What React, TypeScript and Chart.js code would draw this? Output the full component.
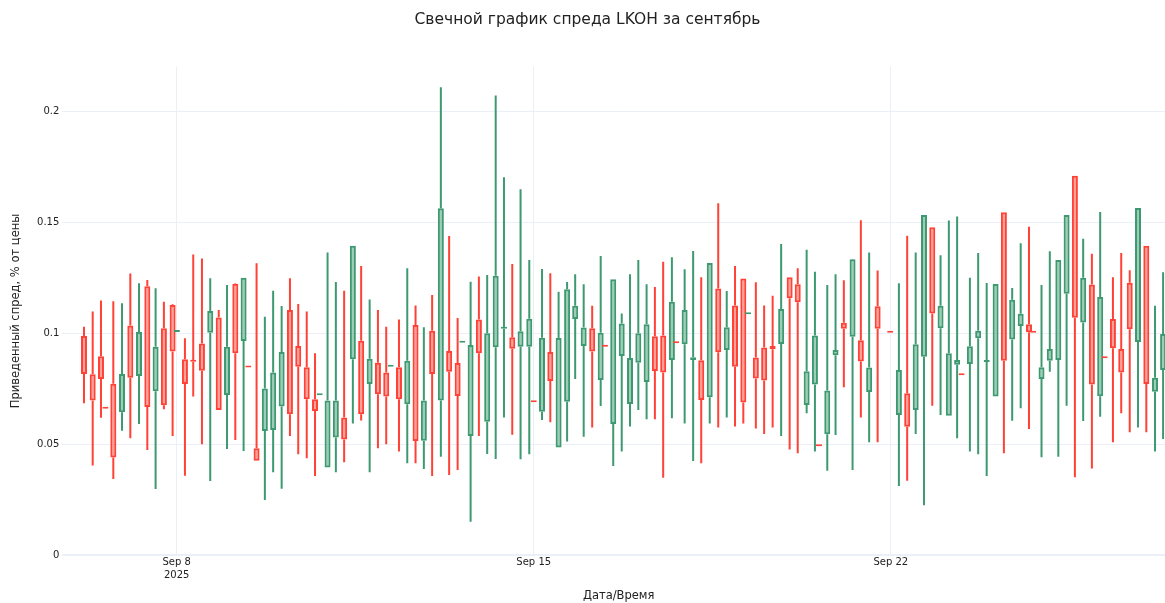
import React, { useEffect, useRef } from 'react';
import { Chart, registerables } from 'chart.js';

Chart.register(...registerables);

// Candle times: hours since 2025-09-08 00:00
const hoursFromSep8 = [
  -43.6, -39.5, -35.6, -33.5, -29.8, -25.7, -21.8, -17.7, -13.8, -9.9,
  -6.0, -1.9, 0.1, 3.9, 7.8, 11.9, 15.8, 19.8, 23.7, 27.6,
  31.5, 33.7, 37.6, 41.5, 45.4, 49.4, 53.3, 57.2, 61.2, 65.1,
  67.3, 71.0, 74.9, 78.8, 82.9, 86.8, 90.8, 94.7, 98.6, 100.7,
  104.6, 108.5, 112.4, 116.3, 120.2, 124.3, 128.2, 132.2, 134.4, 138.3,
  142.2, 146.1, 150.1, 154.0, 157.9, 161.8, 165.9, 168.0, 171.9, 175.8,
  179.7, 183.7, 187.5, 191.5, 195.5, 199.5, 201.5, 205.4, 209.4, 213.3,
  217.2, 221.1, 225.0, 228.9, 233.0, 235.0, 239.0, 243.0, 246.8, 250.8,
  254.8, 258.8, 262.7, 266.6, 268.8, 272.5, 276.4, 280.4, 284.4, 288.4,
  292.2, 296.4, 300.3, 302.2, 306.1, 310.0, 313.9, 318.0, 321.9, 325.8,
  329.8, 335.7, 339.8, 343.7, 347.7, 351.6, 355.5, 359.4, 363.3, 367.2,
  369.3, 373.2, 377.1, 381.1, 385.3, 389.2, 393.1, 397.1, 401.0, 403.0,
  406.9, 410.8, 414.8, 418.7, 422.6, 426.5, 430.6, 434.5, 436.6, 440.5,
  444.4, 448.4, 452.3, 456.2, 460.3, 464.1,
];

const opens = [
  0.0988, 0.0816, 0.0897, 0.066, 0.0773, 0.0644, 0.1035, 0.0808, 0.1212, 0.0739,
  0.1023, 0.1128, 0.1006, 0.0883, 0.0878, 0.0954, 0.1003, 0.1071, 0.0722, 0.1224,
  0.0966, 0.0846, 0.0482, 0.056, 0.0564, 0.067, 0.1105, 0.0943, 0.0847, 0.0703,
  0.0721, 0.0395, 0.0531, 0.0621, 0.0883, 0.0967, 0.0772, 0.0868, 0.0824, 0.085,
  0.0847, 0.068, 0.1038, 0.0516, 0.1012, 0.0697, 0.092, 0.0866, 0.0958, 0.0537,
  0.1062, 0.0602, 0.0937, 0.1021, 0.0982, 0.094, 0.094, 0.0689, 0.0647, 0.0916,
  0.0486, 0.0692, 0.1065, 0.0943, 0.1023, 0.079, 0.094, 0.0591, 0.0898, 0.0682,
  0.0868, 0.0781, 0.0987, 0.099, 0.088, 0.0955, 0.0951, 0.088, 0.0879, 0.0712,
  0.1202, 0.0925, 0.1126, 0.1247, 0.1086, 0.0891, 0.0936, 0.0943, 0.0952, 0.1253,
  0.1221, 0.0677, 0.077, 0.0491, 0.0545, 0.0901, 0.1048, 0.0985, 0.0969, 0.0736,
  0.1122, 0.1003, 0.0632, 0.073, 0.0654, 0.0895, 0.1478, 0.1023, 0.0629, 0.0858,
  0.0811, 0.0862, 0.0978, 0.0871, 0.0715, 0.1546, 0.0972, 0.1033, 0.1041, 0.1003,
  0.0794, 0.0877, 0.088, 0.1178, 0.1711, 0.1049, 0.122, 0.0716, 0.0888, 0.1065,
  0.0929, 0.1228, 0.0961, 0.1395, 0.0737, 0.0835,
];

const highs = [
  0.103, 0.1098, 0.1148, 0.066, 0.1145, 0.1136, 0.127, 0.1226, 0.1241, 0.1203,
  0.1143, 0.1131, 0.1006, 0.0978, 0.1356, 0.1337, 0.1248, 0.1105, 0.1218, 0.1226,
  0.1251, 0.0846, 0.1316, 0.1075, 0.1192, 0.1123, 0.1248, 0.1132, 0.1098, 0.091,
  0.0721, 0.1364, 0.1232, 0.1192, 0.1395, 0.1304, 0.1153, 0.1105, 0.103, 0.085,
  0.1063, 0.1293, 0.1126, 0.1027, 0.1173, 0.2109, 0.1439, 0.1069, 0.0958, 0.1233,
  0.1256, 0.1263, 0.2072, 0.1704, 0.1313, 0.165, 0.1331, 0.0689, 0.129, 0.1271,
  0.1187, 0.1231, 0.1266, 0.1221, 0.1125, 0.1349, 0.094, 0.1244, 0.109, 0.1266,
  0.1331, 0.1221, 0.1209, 0.1323, 0.1343, 0.0955, 0.1289, 0.1371, 0.1253, 0.1317,
  0.1586, 0.1191, 0.1304, 0.1247, 0.1086, 0.123, 0.1126, 0.117, 0.1403, 0.1253,
  0.1293, 0.1377, 0.1278, 0.0491, 0.1218, 0.1266, 0.1239, 0.1335, 0.151, 0.1365,
  0.1283, 0.1003, 0.1226, 0.144, 0.1365, 0.1534, 0.1478, 0.1352, 0.1509, 0.1527,
  0.0811, 0.1251, 0.1362, 0.1227, 0.1223, 0.1546, 0.1205, 0.1406, 0.1481, 0.1003,
  0.1218, 0.137, 0.1331, 0.1534, 0.1711, 0.1426, 0.1359, 0.1547, 0.0888, 0.1253,
  0.1362, 0.1285, 0.1565, 0.1395, 0.1125, 0.1275,
];

const lows = [
  0.0685, 0.0404, 0.062, 0.066, 0.0343, 0.0561, 0.0527, 0.0591, 0.0474, 0.0298,
  0.0658, 0.0537, 0.1006, 0.0358, 0.0715, 0.05, 0.0334, 0.0654, 0.0479, 0.0519,
  0.047, 0.0846, 0.0426, 0.0249, 0.0374, 0.03, 0.0537, 0.0455, 0.0437, 0.0357,
  0.0721, 0.0395, 0.0374, 0.0419, 0.0594, 0.0607, 0.0374, 0.0482, 0.05, 0.085,
  0.0467, 0.0414, 0.0414, 0.0388, 0.0357, 0.0444, 0.0361, 0.0384, 0.0958, 0.0151,
  0.0537, 0.0456, 0.0434, 0.0621, 0.0543, 0.0432, 0.0455, 0.0689, 0.0609, 0.0599,
  0.0486, 0.0512, 0.0794, 0.0534, 0.0576, 0.0673, 0.094, 0.0402, 0.0467, 0.058,
  0.0655, 0.0613, 0.0613, 0.0349, 0.0617, 0.0955, 0.0594, 0.0425, 0.0414, 0.0594,
  0.0576, 0.0621, 0.058, 0.0594, 0.1086, 0.0571, 0.0546, 0.0576, 0.0537, 0.0477,
  0.0459, 0.064, 0.0467, 0.0491, 0.0381, 0.0542, 0.0757, 0.0384, 0.0621, 0.0509,
  0.0509, 0.1003, 0.0312, 0.0336, 0.0546, 0.0225, 0.0674, 0.0632, 0.0629, 0.0527,
  0.0811, 0.0467, 0.0455, 0.0357, 0.0715, 0.0459, 0.0606, 0.0662, 0.0569, 0.1003,
  0.0441, 0.0827, 0.0444, 0.0674, 0.0351, 0.0605, 0.0391, 0.0624, 0.0888, 0.0509,
  0.064, 0.0554, 0.0576, 0.0554, 0.0467, 0.0524,
];

const closes = [
  0.0817, 0.0697, 0.0794, 0.066, 0.044, 0.0817, 0.08, 0.1006, 0.0668, 0.094,
  0.0676, 0.0918, 0.1006, 0.0772, 0.0872, 0.0832, 0.1101, 0.0654, 0.094, 0.091,
  0.1251, 0.0846, 0.0426, 0.0751, 0.0824, 0.0916, 0.0635, 0.085, 0.0703, 0.065,
  0.0721, 0.0697, 0.0697, 0.0522, 0.1395, 0.0635, 0.0886, 0.0726, 0.0715, 0.085,
  0.0703, 0.0877, 0.0515, 0.0697, 0.0817, 0.1564, 0.0827, 0.0718, 0.0958, 0.0948,
  0.091, 0.1, 0.126, 0.1025, 0.0931, 0.101, 0.1066, 0.0689, 0.098, 0.0785,
  0.0979, 0.1199, 0.1125, 0.1026, 0.0918, 0.1003, 0.094, 0.1244, 0.1044, 0.0889,
  0.1, 0.1041, 0.083, 0.0823, 0.1143, 0.0955, 0.1105, 0.0892, 0.07, 0.1317,
  0.0915, 0.1027, 0.085, 0.0688, 0.1086, 0.0797, 0.0787, 0.0928, 0.111, 0.1158,
  0.114, 0.0829, 0.099, 0.0491, 0.0742, 0.0925, 0.1021, 0.1334, 0.0873, 0.0846,
  0.1021, 0.1003, 0.0835, 0.0579, 0.0951, 0.1534, 0.109, 0.1125, 0.091, 0.088,
  0.0811, 0.0942, 0.1012, 0.0875, 0.1223, 0.0877, 0.1151, 0.1088, 0.1005, 0.1003,
  0.0847, 0.093, 0.1331, 0.1534, 0.107, 0.1251, 0.077, 0.1164, 0.0888, 0.0933,
  0.0824, 0.1019, 0.1565, 0.0772, 0.08, 0.0997,
];

const xTickValues = [0, 168, 336];
const xTickLabels: (string | string[])[] = [['Sep 8', '2025'], 'Sep 15', 'Sep 22'];
const yTickValues = [0, 0.05, 0.1, 0.15, 0.2];
const yTickLabels = ['0', '0.05', '0.1', '0.15', '0.2'];

const TITLE = 'Свечной график спреда LKOH за сентябрь';
const X_TITLE = 'Дата/Время';
const Y_TITLE = 'Приведенный спред, % от цены';

const FONT = "'DejaVu Sans', Verdana, sans-serif";
const TXT = '#222';
const GRID = '#EBF0F8';
const INC = '#3D9970';
const DEC = '#FF4136';
const INC_FILL = 'rgba(61,153,112,0.5)';
const DEC_FILL = 'rgba(255,65,54,0.5)';

export default function App() {
  const ref = useRef<HTMLCanvasElement>(null);

  useEffect(() => {
    if (!ref.current) return;
    const up = closes.map((c, i) => c > opens[i] || (c === opens[i] && i > 0 && c > closes[i - 1]));
    const lineColors = up.map((u) => (u ? INC : DEC));
    const fillColors = up.map((u) => (u ? INC_FILL : DEC_FILL));
    const body = hoursFromSep8.map((h, i) => ({ x: h, y: [opens[i], closes[i]] }));
    const upperWick = hoursFromSep8.map((h, i) => ({ x: h, y: [Math.max(opens[i], closes[i]), highs[i]] }));
    const lowerWick = hoursFromSep8.map((h, i) => ({ x: h, y: [lows[i], Math.min(opens[i], closes[i])] }));

    const chart = new Chart(ref.current, {
      type: 'bar',
      data: {
        datasets: [
          {
            label: 'body',
            data: body as any,
            backgroundColor: fillColors,
            borderColor: lineColors,
            borderWidth: 2,
            borderSkipped: false,
            barThickness: 6,
            minBarLength: 2,
            grouped: false,
            inflateAmount: 0,
          } as any,
          {
            label: 'upper',
            data: upperWick as any,
            backgroundColor: lineColors,
            borderWidth: 0,
            barThickness: 2,
            grouped: false,
            inflateAmount: 0,
          } as any,
          {
            label: 'lower',
            data: lowerWick as any,
            backgroundColor: lineColors,
            borderWidth: 0,
            barThickness: 2,
            grouped: false,
            inflateAmount: 0,
          } as any,
        ],
      },
      options: {
        responsive: false,
        animation: false,
        events: [],
        layout: { padding: { left: 0, right: 61, top: 0, bottom: 0 } },
        plugins: {
          legend: { display: false },
          tooltip: { enabled: false },
          title: {
            display: true,
            text: TITLE,
            color: TXT,
            font: { family: FONT, size: 15.5, weight: 'normal' },
            padding: { top: 11, bottom: 37.1 },
          },
        },
        scales: {
          x: {
            type: 'linear',
            min: -53.8,
            max: 469.7,
            offset: false,
            grid: { color: GRID, lineWidth: 1, offset: false, drawTicks: false },
            border: { display: false },
            afterBuildTicks: (s: any) => {
              s.ticks = xTickValues.map((v) => ({ value: v }));
            },
            afterFit: (s: any) => {
              s.height = 47.8;
            },
            ticks: {
              autoSkip: false,
              maxRotation: 0,
              minRotation: 0,
              padding: 1,
              color: TXT,
              font: { family: FONT, size: 10, lineHeight: 1.27 },
              callback: (_v: any, i: number) => xTickLabels[i],
            },
            title: {
              display: true,
              text: X_TITLE,
              color: TXT,
              font: { family: FONT, size: 11.5 },
              padding: { top: 0, bottom: 0 },
            },
          },
          y: {
            type: 'linear',
            min: 0,
            max: 0.2202,
            grid: {
              color: GRID,
              lineWidth: (c: any) => (c.tick && c.tick.value === 0 ? 2 : 1),
              drawTicks: false,
            },
            border: { display: false },
            afterBuildTicks: (s: any) => {
              s.ticks = yTickValues.map((v) => ({ value: v }));
            },
            afterFit: (s: any) => {
              s.width = 62.3;
            },
            ticks: {
              padding: 3,
              color: TXT,
              font: { family: FONT, size: 10 },
              callback: (_v: any, i: number) => yTickLabels[i],
            },
            title: {
              display: true,
              text: Y_TITLE,
              color: TXT,
              font: { family: FONT, size: 11.5 },
              padding: { top: 9, bottom: 0 },
            },
          },
        },
      } as any,
    });
    return () => chart.destroy();
  }, []);

  return (
    <div
      style={{
        position: 'fixed',
        left: 0,
        top: 0,
        width: 1165,
        height: 603,
        overflow: 'hidden',
        background: '#fff',
      }}
    >
      <canvas ref={ref} width={1236} height={603} style={{ display: 'block' }} />
    </div>
  );
}
